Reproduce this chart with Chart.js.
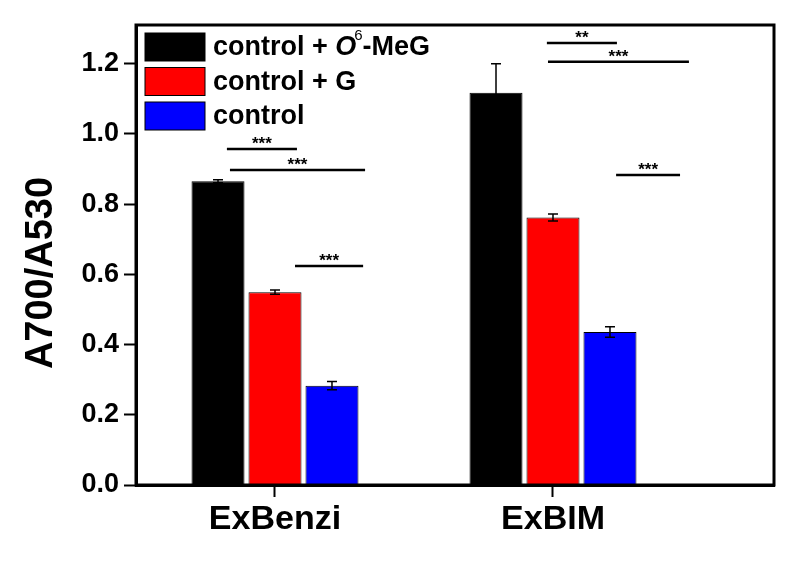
<!DOCTYPE html>
<html>
<head>
<meta charset="utf-8">
<script src="https://cdn.jsdelivr.net/npm/chart.js@4.4.1/dist/chart.umd.min.js"></script>
<style>
  html, body { margin: 0; padding: 0; background: #fff; }
  #wrap { width: 800px; height: 563px; }
</style>
</head>
<body>
<div id="wrap"><canvas id="barChart"></canvas></div>
<script>
const categories = ['ExBenzi', 'ExBIM'];
const categoryPos = [1, 2];
const seriesLabels = ['control + O6-MeG', 'control + G', 'control'];
const seriesColors = ['#000000', '#ff0000', '#0000ff'];
const meGValues = [0.865, 1.117];
const gValues = [0.549, 0.762];
const controlValues = [0.283, 0.436];
const meGErrors = [0.004, 0.083];
const gErrors = [0.006, 0.010];
const controlErrors = [0.012, 0.015];
const yTicks = [0, 0.2, 0.4, 0.6, 0.8, 1.0, 1.2];
const yTitle = 'A700/A530';

// significance brackets: x from, x to (axis units), y level, label
const sigFrom = [0.827, 0.838, 1.072, 1.978, 1.982, 2.227];
const sigTo = [1.079, 1.324, 1.317, 2.230, 2.489, 2.457];
const sigLevel = [0.957, 0.897, 0.624, 1.259, 1.205, 0.883];
const sigText = ['***', '***', '***', '**', '***', '***'];

const allValues = [meGValues, gValues, controlValues];
const allErrors = [meGErrors, gErrors, controlErrors];

const datasets = allValues.map((vals, i) => ({
    label: seriesLabels[i],
    data: vals.map((v, j) => ({ x: categoryPos[j], y: v })),
    backgroundColor: seriesColors[i],
    borderColor: '#000000',
    borderWidth: 1,
    categoryPercentage: 0.615,
    barPercentage: 0.93
}));

const errorBars = {
    id: 'errorBars',
    afterDatasetsDraw(chart) {
        const ctx = chart.ctx;
        const y = chart.scales.y;
        ctx.save();
        ctx.strokeStyle = '#000';
        ctx.lineWidth = 1.5;
        chart.data.datasets.forEach((ds, i) => {
            chart.getDatasetMeta(i).data.forEach((bar, j) => {
                const v = allValues[i][j];
                const e = allErrors[i][j];
                const top = y.getPixelForValue(v + e);
                const bot = y.getPixelForValue(v - e);
                ctx.beginPath();
                ctx.moveTo(bar.x, top); ctx.lineTo(bar.x, bot);
                ctx.moveTo(bar.x - 5, top); ctx.lineTo(bar.x + 5, top);
                ctx.moveTo(bar.x - 5, bot); ctx.lineTo(bar.x + 5, bot);
                ctx.stroke();
            });
        });
        ctx.restore();
    }
};

const sigMarks = {
    id: 'sigMarks',
    afterDatasetsDraw(chart) {
        const ctx = chart.ctx;
        const xs = chart.scales.x, ys = chart.scales.y;
        ctx.save();
        ctx.strokeStyle = '#000';
        ctx.fillStyle = '#000';
        ctx.lineWidth = 2.5;
        ctx.font = 'bold 17px Arial';
        ctx.textAlign = 'center';
        ctx.textBaseline = 'bottom';
        sigFrom.forEach((f, k) => {
            const x1 = xs.getPixelForValue(f);
            const x2 = xs.getPixelForValue(sigTo[k]);
            const yy = ys.getPixelForValue(sigLevel[k]);
            ctx.beginPath();
            ctx.moveTo(x1, yy); ctx.lineTo(x2, yy);
            ctx.stroke();
            ctx.fillText(sigText[k], (x1 + x2) / 2, yy + 4);
        });
        ctx.restore();
    }
};

const frameAndLegend = {
    id: 'frameAndLegend',
    afterDraw(chart) {
        const ctx = chart.ctx;
        const a = chart.chartArea;
        ctx.save();
        ctx.strokeStyle = '#000';
        ctx.lineWidth = 3;
        ctx.strokeRect(a.left, a.top, a.right - a.left, a.bottom - a.top);

        // y axis title
        ctx.save();
        ctx.translate(42, 273);
        ctx.rotate(-Math.PI / 2);
        ctx.fillStyle = '#000';
        ctx.font = 'bold 38px Arial';
        ctx.textAlign = 'center';
        ctx.textBaseline = 'middle';
        ctx.fillText(yTitle, 0, 0);
        ctx.restore();

        // legend inside the plot, top-left
        const bx = a.left + 9, by = a.top + 8, bw = 60, bh = 28, step = 34.5;
        ctx.textBaseline = 'middle';
        seriesColors.forEach((c, i) => {
            const yTop = by + i * step;
            ctx.fillStyle = c;
            ctx.fillRect(bx, yTop, bw, bh);
            ctx.lineWidth = 1;
            ctx.strokeRect(bx, yTop, bw, bh);
            ctx.fillStyle = '#000';
            const tx = bx + bw + 8, ty = yTop + bh / 2 + 1;
            if (i === 0) {
                ctx.font = 'bold 27px Arial';
                let w = ctx.measureText('control + ').width;
                ctx.fillText('control + ', tx, ty);
                ctx.font = 'italic bold 27px Arial';
                ctx.fillText('O', tx + w, ty);
                w += ctx.measureText('O').width;
                ctx.font = '15px Arial';
                ctx.fillText('6', tx + w - 2, ty - 12);
                w += ctx.measureText('6').width - 2;
                ctx.font = 'bold 27px Arial';
                ctx.fillText('-MeG', tx + w, ty);
            } else {
                ctx.font = 'bold 27px Arial';
                ctx.fillText(seriesLabels[i], tx, ty);
            }
        });
        ctx.restore();
    }
};

new Chart(document.getElementById('barChart').getContext('2d'), {
    type: 'bar',
    data: { datasets: datasets },
    options: {
        responsive: true,
        maintainAspectRatio: false,
        animation: false,
        layout: { padding: { top: 25, right: 26, left: 0, bottom: 0 } },
        plugins: {
            legend: { display: false },
            tooltip: { enabled: false }
        },
        scales: {
            x: {
                type: 'linear',
                min: 0.5,
                max: 2.795,
                offset: false,
                afterBuildTicks(scale) {
                    scale.ticks = categoryPos.map(v => ({ value: v }));
                },
                afterFit(scale) { scale.height = 78; },
                ticks: {
                    color: '#000',
                    font: { family: 'Arial', size: 34, weight: 'bold' },
                    padding: 2,
                    callback: (v) => categories[categoryPos.indexOf(v)]
                },
                grid: {
                    display: true,
                    offset: false,
                    drawOnChartArea: false,
                    tickLength: 12,
                    tickColor: '#000',
                    tickWidth: 2
                },
                border: { display: true, color: '#000', width: 3 }
            },
            y: {
                min: 0,
                max: 1.31,
                afterBuildTicks(scale) {
                    scale.ticks = yTicks.map(v => ({ value: v }));
                },
                afterFit(scale) { scale.width = 136; },
                ticks: {
                    color: '#000',
                    font: { family: 'Arial', size: 27, weight: 'bold' },
                    padding: 5,
                    callback: (v) => v.toFixed(1)
                },
                grid: {
                    display: true,
                    drawOnChartArea: false,
                    tickLength: 12,
                    tickColor: '#000',
                    tickWidth: 2
                },
                border: { display: true, color: '#000', width: 3 }
            }
        }
    },
    plugins: [errorBars, sigMarks, frameAndLegend]
});
</script>
</body>
</html>
